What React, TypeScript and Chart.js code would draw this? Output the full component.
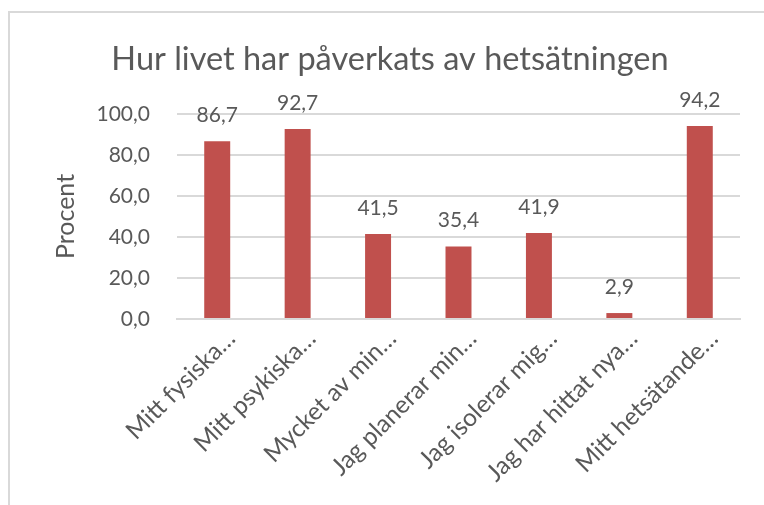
import React, { useEffect, useRef } from "react";
import { Chart, registerables } from "chart.js";

Chart.register(...registerables);

const chartTitle = "Hur livet har påverkats av hetsätningen";
const yAxisTitle = "Procent";
const categories = [
  "Mitt fysiska…",
  "Mitt psykiska…",
  "Mycket av min…",
  "Jag planerar min…",
  "Jag isolerar mig…",
  "Jag har hittat nya…",
  "Mitt hetsätande…",
];
const values = [86.7, 92.7, 41.5, 35.4, 41.9, 2.9, 94.2];
const yTicks = [0, 20, 40, 60, 80, 100];

const FONT = "Lato";
const TEXT = "#595959";
const GRID = "#d9d9d9";
const BAR = "#c0504d";

const fmt = (v: number) => Number(v).toFixed(1).replace(".", ",");

const valueLabels = {
  id: "valueLabels",
  afterDatasetsDraw(chart: any) {
    const ctx = chart.ctx;
    const meta = chart.getDatasetMeta(0);
    ctx.save();
    ctx.font = `21px ${FONT}`;
    ctx.fillStyle = TEXT;
    ctx.textAlign = "center";
    ctx.textBaseline = "alphabetic";
    meta.data.forEach((el: any, i: number) => {
      const v = chart.data.datasets[0].data[i];
      ctx.fillText(fmt(v), el.x, el.y - 19);
    });
    ctx.restore();
  },
};

export default function App() {
  const ref = useRef<HTMLCanvasElement | null>(null);

  useEffect(() => {
    if (!ref.current) return;
    const chart = new Chart(ref.current, {
      type: "bar",
      data: {
        labels: categories,
        datasets: [
          {
            data: values,
            backgroundColor: BAR,
            barPercentage: 0.323,
            categoryPercentage: 1,
          },
        ],
      },
      plugins: [valueLabels],
      options: {
        responsive: false,
        animation: false,
        devicePixelRatio: 1,
        layout: { padding: { left: 40, right: 24, top: 0, bottom: 0 } },
        plugins: {
          legend: { display: false },
          tooltip: { enabled: false },
          title: {
            display: true,
            text: chartTitle,
            color: TEXT,
            font: { family: FONT, size: 32.5, weight: "normal" },
            padding: { top: 40, bottom: 35 },
          },
        },
        scales: {
          x: {
            grid: { display: false, drawTicks: false },
            border: { display: true, color: GRID, width: 2 },
            ticks: {
              color: TEXT,
              font: { family: FONT, size: 24.5 },
              maxRotation: 45,
              minRotation: 45,
              autoSkip: false,
              labelOffset: 14,
              padding: 5,
            },
            afterFit: (s: any) => {
              s.height = 186;
            },
          },
          y: {
            min: 0,
            max: 100,
            grid: { color: GRID, lineWidth: 2, drawTicks: false },
            border: { display: false },
            ticks: {
              color: TEXT,
              font: { family: FONT, size: 21 },
              padding: 27,
              callback: (v: any) => fmt(v),
            },
            afterBuildTicks: (s: any) => {
              s.ticks = yTicks.map((v) => ({ value: v }));
            },
            title: {
              display: true,
              text: yAxisTitle,
              color: TEXT,
              font: { family: FONT, size: 25 },
              padding: { top: 11, bottom: 0 },
            },
            afterFit: (s: any) => {
              s.width = 137;
            },
          },
        },
      },
    });
    return () => chart.destroy();
  }, []);

  return (
    <div
      style={{
        position: "fixed",
        left: 0,
        top: 0,
        width: 764,
        height: 505,
        overflow: "hidden",
        background: "#ffffff",
      }}
    >
      <div
        style={{
          position: "absolute",
          left: 8,
          top: 11,
          width: 900,
          height: 700,
          border: `2px solid ${GRID}`,
          boxSizing: "border-box",
        }}
      />
      <canvas
        ref={ref}
        width={764}
        height={505}
        style={{ position: "absolute", left: 0, top: 0, width: 764, height: 505 }}
      />
    </div>
  );
}
